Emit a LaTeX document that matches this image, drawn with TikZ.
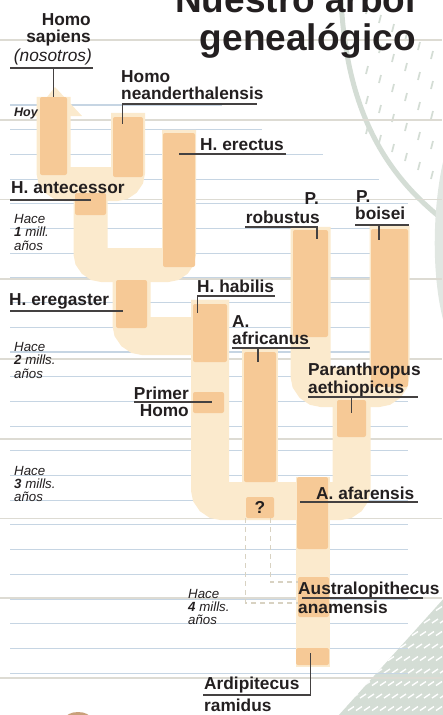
\documentclass[tikz,border=0pt]{standalone}
\usepackage{fontspec}
\setmainfont{Liberation Sans}
\usepackage{xcolor}
\definecolor{crema}{RGB}{251,234,205}
\definecolor{ocre}{RGB}{246,201,150}
\definecolor{pauta}{RGB}{198,213,227}
\definecolor{gris}{RGB}{221,219,211}
\definecolor{tinta}{RGB}{35,31,32}
\definecolor{hoja}{RGB}{212,221,213}
\definecolor{punteo}{RGB}{216,210,194}
\definecolor{barro}{RGB}{201,160,122}
\usepackage{tikz}
\usetikzlibrary{calc, backgrounds}

\begin{document}
\begin{tikzpicture}[x=1pt, y=-1pt,
    bloque/.style={fill=ocre, inner sep=0pt, rounded corners=2pt},
    tronco/.style={draw=crema, line width=34pt, rounded corners=12pt},
    rotulo/.style={font=\fontsize{17.3}{18}\selectfont\bfseries, text=tinta, inner sep=0pt},
    titulo/.style={font=\fontsize{37}{38}\selectfont\bfseries, text=tinta, inner sep=0pt, anchor=base east},
    epoca/.style={font=\fontsize{13.3}{14}\selectfont\itshape, text=tinta, inner sep=0pt, anchor=base west},
    guia/.style={draw=tinta!85, line width=1.1pt},
    linea/.style={draw=pauta, line width=1.1pt},
    corte/.style={draw=gris, line width=1.6pt},
    discontinua/.style={draw=punteo, line width=1.3pt, dash pattern=on 5pt off 4pt}]
      \useasboundingbox (0,0) rectangle (442,715);
      % Titulo
      \node[titulo] (tit1) at (416,12) {Nuestro árbol};
      \node[titulo] (tit2) at (416,50) {genealógico};
      % Especies (bloques)
      \node[bloque, minimum width=27, minimum height=78] (sap) at (53.5,136) {};
      \node[bloque, minimum width=30, minimum height=60] (nea) at (128,147) {};
      \node[bloque, minimum width=32, minimum height=134] (ere) at (179,200) {};
      \node[bloque, minimum width=31, minimum height=22] (ant) at (90.5,204) {};
      \node[bloque, minimum width=31, minimum height=48] (erg) at (131.5,304) {};
      \node[bloque, minimum width=34, minimum height=58] (hab) at (210,333) {};
      \node[bloque, minimum width=31, minimum height=21] (pri) at (208.5,402.5) {};
      \node[bloque, minimum width=32, minimum height=130] (afr) at (260,417) {};
      \node[bloque, minimum width=28, minimum height=21, font=\fontsize{17.3}{18}\selectfont\bfseries, text=tinta] (q) at (260,507.5) {?};
      \node[bloque, minimum width=35, minimum height=107] (rob) at (310.5,283.5) {};
      \node[bloque, minimum width=37, minimum height=158] (boi) at (389.5,308) {};
      \node[bloque, minimum width=29, minimum height=37] (aet) at (351.5,418.5) {};
      \node[bloque, minimum width=31, minimum height=72] (afa) at (312.5,513) {};
      \node[bloque, minimum width=31, minimum height=40] (ana) at (313.5,597) {};
      \node[bloque, minimum width=33, minimum height=17] (ram) at (312.5,656.5) {};
      \begin{pgfonlayer}{background}
        % Hoja del fondo
        \draw[hoja, line width=5pt, line cap=round] (341,-2) .. controls (346,110) and (385,175) .. (446,222);
        \fill[hoja!70] (446,150) .. controls (432,200) and (430,280) .. (446,330) -- cycle;
        \foreach \i in {0,...,5}
          \foreach \j in {0,...,4}
            \draw[hoja, line width=1.8pt] ({366+13*\i},{14+30*\j+9*\i}) -- ++(2,-8);
        \begin{scope}
          \clip (338,716) -- (446,596) -- (446,716) -- cycle;
          \fill[hoja] (338,716) -- (446,596) -- (446,716) -- cycle;
          \foreach \i in {0,...,13}
            \foreach \j in {0,...,9}
              \draw[white, line width=1.4pt] ({336+8*\i+4*mod(\j,2)},{598+12.5*\j}) -- ++(6,-4);
        \end{scope}
        \fill[barro] (78,719) ellipse [x radius=13, y radius=7];
        % Pauta de fondo
        \foreach \k/\xe in {0/222,1/262,2/323,3/379}
          \draw[linea] (10,{105+24.7*\k}) -- (\xe,{105+24.7*\k});
        \foreach \k in {4,...,23}
          \draw[linea] (10,{105+24.7*\k}) -- (408,{105+24.7*\k});
        \foreach \k in {0,...,8}
          \draw[corte] (0,{40+79.75*\k}) -- (442,{40+79.75*\k});
        % Ramas del arbol
        \fill[crema] (32,116) -- (55,87) -- (82,116) -- cycle;
        \draw[tronco] (sap.north) -- (sap |- 0,184) -- (nea |- 0,184) -- ($(nea.north)+(0,-4)$);
        \draw[tronco] (ant.north) -- (ant |- 0,265) -- (ere |- 0,265) -- ($(ere.north)+(0,-3)$);
        \draw[tronco, line width=38pt] (erg.north) -- (erg |- 0,336) -- (hab |- 0,336) -- ($(hab.north)+(0,-4)$);
        \draw[tronco, line width=38pt] ($(hab.north)+(0,-4)$) -- (hab |- 0,501) -- (aet |- 0,501) -- (aet |- 0,387);
        \draw[tronco, line width=36pt] ($(afr.north)+(0,-3)$) -- (afr |- 0,501);
        \draw[tronco] (afa.north) -- ($(ram.south)+(0,2)$);
        \draw[tronco, line width=40pt] ($(rob.north)+(0,-3)$) -- (rob |- 0,387) -- (boi |- 0,387) -- ($(boi.north)+(0,-3)$);
        % Origen incierto
        \draw[discontinua] (q.south west) |- (ana.west |- 0,603);
        \draw[discontinua] ($(q.south east)+(-4,0)$) |- (ana.west |- 0,582);
      \end{pgfonlayer}
      % Rotulos
      \node[rotulo, anchor=base east] (sapA) at (91,25) {Homo};
      \node[rotulo, anchor=base east] (sapB) at (91,42) {sapiens};
      \node[rotulo, anchor=base east, font=\fontsize{17.3}{18}\selectfont\itshape] (sapC) at (92,61) {(nosotros)};
      \draw[guia] (10,68) -- (93,68);
      \draw[guia] (sap.north) -- (sap.north |- 0,68);
      \node[rotulo, anchor=base west] (neaA) at (121,82) {Homo};
      \node[rotulo, anchor=base west] (neaB) at (121,99) {neanderthalensis};
      \draw[guia] ($(nea.north west)+(10,7)$) |- (257,104);
      \node[rotulo, anchor=base west] (ereA) at (200,150) {H. erectus};
      \draw[guia] (ere |- 0,154) -- (286,154);
      \node[rotulo, anchor=base west] (antA) at (11,193) {H. antecessor};
      \draw[guia] (10,200) -- (ant |- 0,200);
      \node[rotulo, anchor=base west] (ergA) at (9,305) {H. eregaster};
      \draw[guia] (10,311) -- ($(erg.west |- 0,311)+(7,0)$);
      \node[rotulo, anchor=base west] (habA) at (197,292) {H. habilis};
      \draw[guia] ($(hab.north west)+(5,9)$) |- (275,296);
      \node[rotulo, anchor=base west] (afrA) at (232,327) {A.};
      \node[rotulo, anchor=base west] (afrB) at (232,344) {africanus};
      \draw[guia] (232,348) -- (310,348);
      \draw[guia] ($(afr.north)+(-2,10)$) -- ++(0,-14);
      \node[rotulo, anchor=base east] (priA) at (189,399) {Primer};
      \node[rotulo, anchor=base east] (priB) at (189,416) {Homo};
      \draw[guia] (134,402) -- ($(pri |- 0,402)+(3,0)$);
      \node[rotulo, anchor=base east] (robA) at (319,204) {P.};
      \node[rotulo, anchor=base east] (robB) at (320,223) {robustus};
      \draw[guia] ($(rob.north)+(6.5,9)$) |- (245,227);
      \node[rotulo, anchor=base west] (boiA) at (356,202) {P.};
      \node[rotulo, anchor=base west] (boiB) at (355,219) {boisei};
      \draw[guia] (355,225) -- (409,225);
      \draw[guia] ($(boi.north)+(-10.5,11)$) -- ++(0,-15);
      \node[rotulo, anchor=base west] (aetA) at (308,375) {Paranthropus};
      \node[rotulo, anchor=base west] (aetB) at (308,393) {aethiopicus};
      \draw[guia] (308,397) -- (418,397);
      \draw[guia] ($(aet.north)+(0,13)$) -- ++(0,-16);
      \node[rotulo, anchor=base west] (afaA) at (316,499) {A. afarensis};
      \draw[guia] (300,502) -- (418,502);
      \node[rotulo, anchor=base west] (anaA) at (298,594) {Australopithecus};
      \node[rotulo, anchor=base west] (anaB) at (298,613) {anamensis};
      \draw[guia] (302,598) -- (423,598);
      \node[rotulo, anchor=base west] (ramA) at (204,689) {Ardipitecus};
      \node[rotulo, anchor=base west] (ramB) at (204,711) {ramidus};
      \draw[guia] (203,695) -| ($(ram.south)+(-2,-12)$);
      % Escala de tiempo
      \node[epoca, font=\fontsize{12.5}{13}\selectfont\bfseries\itshape] (hoy) at (14,116) {Hoy};
      \node[epoca] (m1a) at (14,223) {Hace};
      \node[epoca] (m1b) at (14,236.5) {{\bfseries 1} mill.};
      \node[epoca] (m1c) at (14,250) {años};
      \node[epoca] (m2a) at (14,351) {Hace};
      \node[epoca] (m2b) at (14,364.5) {{\bfseries 2} mills.};
      \node[epoca] (m2c) at (14,378) {años};
      \node[epoca] (m3a) at (14,475) {Hace};
      \node[epoca] (m3b) at (14,488) {{\bfseries 3} mills.};
      \node[epoca] (m3c) at (14,501) {años};
      \node[epoca] (m4a) at (188,598) {Hace};
      \node[epoca] (m4b) at (188,611) {{\bfseries 4} mills.};
      \node[epoca] (m4c) at (188,624) {años};
    \end{tikzpicture}
\end{document}
